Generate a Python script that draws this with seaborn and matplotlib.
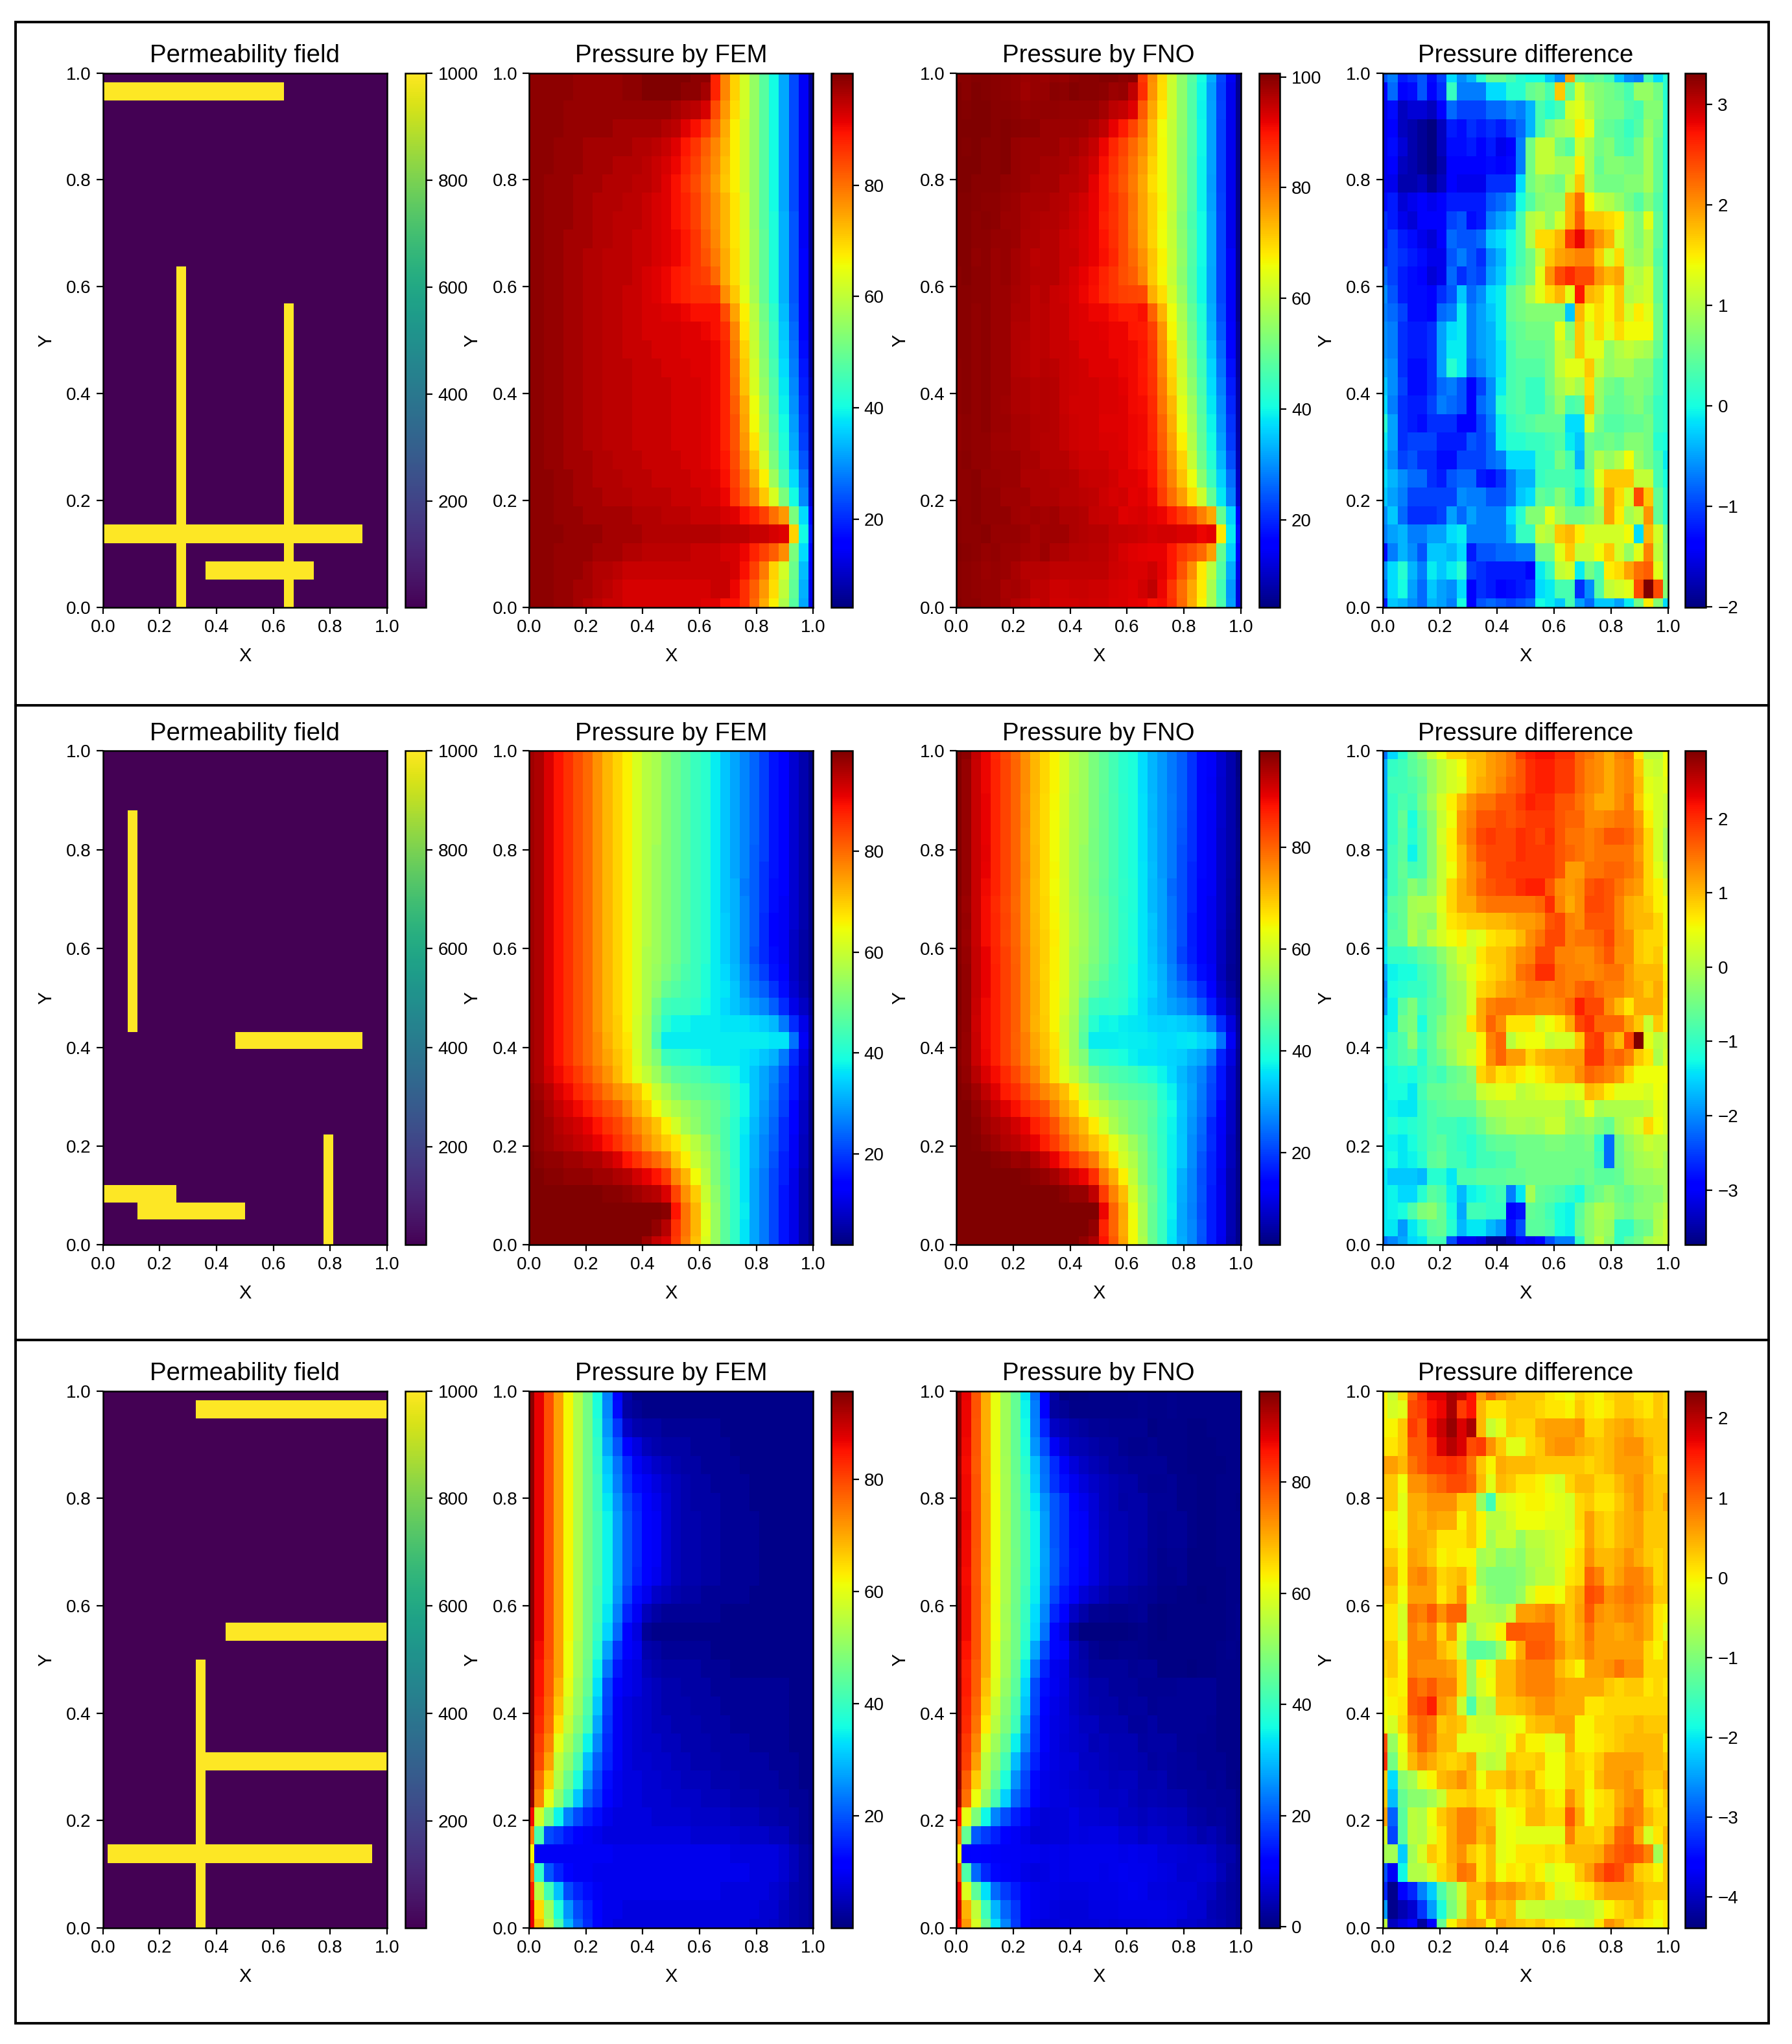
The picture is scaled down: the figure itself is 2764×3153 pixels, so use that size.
"""
plot.py
-------
Permeability field, FEM pressure, FNO pressure and their difference for three
samples. Fields are on a 30x30 grid, rows listed from y=1 (top) to y=0 (bottom).
"""
import numpy as np
import pandas as pd
import matplotlib.pyplot as plt
import seaborn as sns

NX = 30

# high permeability channels as grid cell ranges: (row_from, row_to, col_from, col_to)
PERM_BARS_1 = [(1, 1, 0, 18), (11, 29, 8, 8), (13, 29, 19, 19), (25, 25, 0, 26), (27, 27, 11, 21)]
PERM_BARS_2 = [(4, 16, 3, 3), (17, 17, 14, 26), (26, 26, 0, 7), (27, 27, 4, 14), (23, 29, 23, 23)]
PERM_BARS_3 = [(1, 1, 10, 29), (13, 13, 13, 29), (15, 29, 10, 10), (20, 20, 11, 29), (25, 25, 1, 27)]

FEM_1 = [
    [99,99,99,99,99,98,98,98,98,98,99,99,100,100,100,100,100,99,99,88,78,70,62,55,48,40,32,23,14,6],
    [99,99,99,99,99,98,98,98,98,98,99,99,100,100,100,100,99,99,97,88,78,70,62,55,48,40,32,23,14,6],
    [99,99,99,99,98,98,98,98,98,98,98,98,98,98,98,97,96,95,93,84,76,69,62,55,48,40,32,23,14,6],
    [99,99,99,99,98,98,98,98,98,97,97,97,97,97,96,95,92,90,86,81,74,67,61,55,48,40,32,23,14,6],
    [99,99,99,98,98,98,97,97,97,97,97,96,96,95,94,92,89,86,82,78,73,67,61,55,48,40,32,23,14,6],
    [99,99,99,98,98,98,97,97,97,96,96,96,95,94,93,91,88,85,81,77,72,67,61,55,48,40,32,23,14,6],
    [99,99,98,98,98,97,97,97,96,96,96,95,95,94,92,90,87,84,80,76,71,67,61,55,48,40,32,23,14,6],
    [99,99,98,98,98,97,97,96,96,96,95,95,94,93,92,90,88,85,81,77,73,68,62,55,48,40,32,23,14,6],
    [99,99,98,98,98,97,97,96,96,95,95,95,94,93,92,90,88,85,81,77,73,68,62,55,48,41,33,24,14,6],
    [99,99,98,98,97,97,97,96,96,95,95,94,94,93,92,91,89,86,82,78,73,68,63,56,49,41,33,24,14,6],
    [99,99,98,98,97,97,96,96,95,95,95,94,94,93,92,91,89,86,83,79,74,69,63,56,49,41,33,24,15,6],
    [99,99,98,98,97,97,96,96,95,95,95,94,93,92,91,89,88,86,85,81,74,69,63,56,49,41,33,24,15,6],
    [99,99,98,98,97,97,96,96,95,95,94,94,93,92,91,89,88,87,87,86,77,71,64,57,49,41,33,24,15,6],
    [99,99,98,98,97,97,96,96,95,95,94,94,93,93,92,92,91,90,90,90,84,75,67,59,51,43,34,25,15,6],
    [99,99,98,98,97,97,96,96,95,95,94,94,93,93,93,93,92,92,91,90,87,78,68,60,52,44,35,26,16,7],
    [99,99,98,98,97,97,96,96,95,95,94,94,94,93,93,93,92,92,92,91,88,79,70,61,53,45,36,27,17,7],
    [99,99,98,98,97,97,96,96,95,95,95,94,94,94,93,93,93,92,92,91,88,80,71,62,54,46,37,28,18,7],
    [99,99,98,98,97,97,96,96,95,95,95,94,94,94,94,93,93,93,92,91,88,81,72,63,55,47,38,29,19,8],
    [99,99,98,98,97,97,96,96,95,95,95,94,94,94,94,93,93,93,92,91,88,82,74,65,57,48,39,30,20,8],
    [99,99,98,98,97,97,96,96,95,95,95,94,94,94,94,93,93,93,92,91,88,83,75,66,58,49,40,31,21,8],
    [99,99,98,98,97,97,96,96,95,95,95,94,94,94,94,93,93,93,92,91,88,83,76,68,59,50,41,32,22,8],
    [99,99,98,98,97,97,97,96,96,95,95,95,94,94,94,94,93,93,92,91,89,84,78,71,62,52,43,34,24,9],
    [99,99,99,98,98,97,97,96,96,96,95,95,95,94,94,94,94,93,93,92,90,85,80,74,67,56,46,37,27,10],
    [99,99,99,98,98,97,97,97,96,96,96,95,95,95,95,94,94,94,93,93,91,86,82,78,71,63,52,40,29,11],
    [99,99,99,98,98,98,97,97,97,97,97,96,96,96,95,95,95,94,94,94,93,92,90,88,85,80,76,52,37,16],
    [99,99,99,99,98,98,98,98,97,97,97,97,96,96,96,96,96,96,96,96,95,95,95,94,94,93,92,70,40,18],
    [99,99,99,98,98,98,98,97,97,97,96,96,95,95,95,95,95,94,94,94,93,93,91,88,85,82,77,52,37,16],
    [99,99,99,98,98,98,97,96,96,95,94,94,94,94,94,94,94,94,94,94,94,93,90,85,79,70,62,50,34,14],
    [99,99,99,98,98,97,97,96,95,94,93,93,93,93,93,93,93,93,93,94,94,91,87,82,76,69,60,49,33,13],
    [99,99,99,98,98,97,96,95,94,94,93,93,93,93,93,93,93,93,92,92,90,90,87,81,74,67,58,48,32,12],
]

FEM_2 = [
    [97,96,92,89,86,83,80,76,72,69,66,62,58,56,52,49,46,43,41,37,33,30,27,24,20,16,13,9,6,3],
    [97,96,92,89,86,83,80,76,72,69,66,62,58,56,52,49,46,43,41,37,33,30,27,24,20,16,13,9,6,3],
    [97,96,92,89,86,83,80,76,72,69,66,62,58,56,52,49,46,43,41,37,33,30,27,24,20,16,13,9,6,3],
    [97,96,92,89,86,83,80,76,72,69,66,62,58,56,52,49,46,43,41,37,33,30,27,24,20,16,13,9,6,3],
    [97,96,92,89,86,83,80,76,72,69,66,62,58,56,52,49,46,43,41,37,33,30,27,24,20,16,13,9,6,3],
    [97,96,92,89,86,83,80,76,72,69,66,62,58,56,52,49,46,43,41,37,33,30,27,24,20,16,13,9,6,3],
    [97,96,92,89,86,83,80,76,72,69,66,62,58,55,52,49,46,43,41,37,33,30,27,23,20,16,13,9,6,3],
    [97,96,92,89,86,83,80,76,72,69,66,62,58,55,52,49,46,43,41,37,33,30,27,23,19,16,13,9,6,3],
    [97,96,92,89,86,83,80,76,72,69,66,62,58,55,52,49,46,43,41,37,33,31,26,23,19,15,13,9,6,3],
    [97,96,92,89,86,83,80,76,72,69,66,62,58,55,52,49,46,43,41,37,33,31,27,23,19,15,12,9,6,3],
    [97,96,92,89,86,83,80,76,72,69,66,62,58,55,52,49,46,43,41,37,34,31,27,23,18,14,12,9,6,3],
    [97,96,92,89,86,83,80,76,72,69,66,62,58,55,52,49,46,43,41,37,34,31,27,23,18,14,12,8,5,3],
    [97,96,92,89,86,83,80,76,72,69,66,62,57,55,52,49,46,43,41,37,34,31,27,22,18,15,12,8,5,3],
    [97,96,92,89,86,83,80,76,72,69,66,62,57,54,51,48,45,43,40,37,35,32,28,24,20,16,13,8,5,3],
    [97,96,92,89,86,83,80,76,72,69,66,62,57,53,48,46,44,43,40,37,36,33,29,26,23,19,15,9,6,3],
    [97,96,92,89,86,83,80,76,72,69,66,62,57,50,44,43,43,42,39,37,35,33,31,29,27,23,18,11,8,4],
    [97,96,92,89,86,83,80,76,72,70,66,61,56,48,41,38,38,37,37,37,36,36,36,35,34,32,26,18,11,5],
    [97,96,92,89,86,83,80,77,73,70,67,61,56,46,37,37,37,37,37,37,37,37,37,37,37,36,36,25,12,5],
    [97,96,92,89,86,83,80,77,74,71,68,62,56,52,43,42,41,40,38,37,37,37,36,35,33,31,26,18,10,4],
    [97,96,93,90,88,85,82,79,76,72,68,63,59,55,50,47,46,45,44,42,41,39,36,33,30,27,22,16,9,4],
    [98,97,95,92,90,87,85,82,79,76,74,71,66,60,56,52,49,48,47,46,45,41,38,33,30,26,21,16,9,4],
    [99,98,96,94,92,90,88,85,83,81,77,73,70,65,60,57,54,52,50,48,46,42,38,33,29,25,20,14,8,3],
    [99,98,97,95,94,93,91,89,86,84,81,77,74,71,66,61,56,53,50,48,45,41,37,32,28,24,18,13,8,3],
    [99,98,97,96,95,94,93,91,89,86,83,80,76,73,70,67,62,58,54,50,45,41,36,31,27,23,18,12,7,3],
    [100,99,98,98,97,97,96,96,94,92,89,86,83,80,77,71,66,60,56,51,46,41,36,31,27,22,17,12,7,3],
    [100,100,99,99,98,98,98,97,97,96,95,93,91,89,85,77,72,65,58,51,46,42,36,30,26,21,17,11,6,3],
    [100,100,100,100,100,100,100,100,99,99,98,97,96,95,92,84,76,70,60,53,47,42,36,30,26,21,16,11,6,3],
    [100,100,100,100,100,100,100,100,100,100,100,100,100,100,99,89,79,72,62,54,47,42,37,30,26,21,16,11,6,3],
    [100,100,100,100,100,100,100,100,100,100,100,100,100,98,95,86,79,72,63,54,47,42,36,30,26,21,16,11,6,3],
    [100,100,100,100,100,100,100,100,100,100,100,100,97,94,92,85,78,71,62,54,47,42,36,30,26,21,16,11,6,3],
]

FEM_3 = [
    [95,87,79,71,62,54,47,36,24,12,4,1,1,1,1,1,1,1,1,1,1,1,1,1,1,1,1,1,1,1],
    [95,87,79,71,62,54,47,37,25,13,3,2,1,1,1,1,1,1,1,1,1,1,1,1,1,1,1,1,1,1],
    [95,87,79,71,62,54,47,38,26,17,6,4,3,3,2,2,2,2,2,2,1,1,1,1,1,1,1,1,1,1],
    [95,87,79,71,62,54,47,39,28,20,11,8,5,4,3,3,3,2,2,2,2,1,1,1,1,1,1,1,1,1],
    [95,87,79,71,62,54,47,40,31,23,16,10,8,6,5,4,3,3,2,2,2,2,1,1,1,1,1,1,1,1],
    [95,87,79,71,62,54,47,41,32,24,17,13,10,8,6,5,4,3,3,2,2,2,2,1,1,1,1,1,1,1],
    [95,87,79,71,62,54,47,41,34,26,19,15,11,9,7,5,4,3,3,3,2,2,2,1,1,1,1,1,1,1],
    [95,87,79,71,62,54,47,42,35,27,20,16,12,10,7,5,4,4,3,3,2,2,2,2,1,1,1,1,1,1],
    [95,87,79,71,62,54,47,42,35,27,20,16,12,10,7,5,4,4,3,3,2,2,2,2,1,1,1,1,1,1],
    [95,87,79,71,62,54,47,42,35,27,20,16,12,10,7,5,4,4,3,3,2,2,2,2,1,1,1,1,1,1],
    [95,87,79,71,62,54,47,42,35,27,20,15,12,9,7,5,4,4,3,3,2,2,2,2,1,1,1,1,1,1],
    [95,87,79,71,62,54,47,41,35,26,18,13,9,6,5,4,3,3,2,2,2,2,2,1,1,1,1,1,1,1],
    [95,87,79,71,62,54,47,41,34,24,15,10,5,3,2,2,2,2,2,2,1,1,1,1,1,1,1,1,1,1],
    [95,87,79,71,62,54,47,40,32,22,12,8,2,1,1,1,1,1,1,1,1,1,1,1,1,1,1,1,1,1],
    [95,86,79,71,61,53,47,38,27,17,11,9,4,3,2,2,2,2,2,1,1,1,1,1,1,1,1,1,1,1],
    [95,85,78,71,61,53,46,35,23,14,9,8,5,4,3,3,3,3,2,2,2,1,1,1,1,1,1,1,1,1],
    [95,85,78,69,60,52,45,33,19,12,9,8,6,5,4,4,3,3,3,2,2,2,2,2,2,2,2,1,1,1],
    [95,84,77,67,58,51,43,31,18,10,8,7,6,5,4,4,4,3,3,3,2,2,2,2,2,2,2,1,1,1],
    [95,83,76,64,56,49,41,28,17,10,8,7,6,5,5,4,4,4,3,3,3,2,2,2,2,2,2,1,1,1],
    [95,81,74,60,53,46,35,25,16,10,8,7,6,6,5,5,4,4,4,3,3,3,3,2,2,2,2,1,1,1],
    [95,80,71,56,50,42,30,21,15,10,8,7,7,6,6,5,5,4,4,4,3,3,3,3,3,2,2,2,1,1],
    [95,76,66,54,46,37,26,19,13,9,8,8,7,7,6,6,5,5,5,4,4,4,3,3,3,3,2,2,1,1],
    [94,74,60,50,41,31,21,17,12,9,8,8,7,7,7,6,6,6,5,5,5,4,4,4,3,3,3,2,2,1],
    [86,58,47,35,24,19,15,13,9,8,8,8,8,7,7,7,7,6,6,6,6,5,5,5,4,4,3,3,2,1],
    [75,42,19,17,14,11,10,9,8,8,8,8,8,8,8,8,8,7,7,7,7,7,6,6,6,5,5,3,2,1],
    [62,10,10,10,10,10,10,10,10,9,9,9,9,9,9,9,9,9,9,9,9,8,8,8,8,8,7,5,3,2],
    [76,39,20,15,12,10,10,9,9,9,9,9,9,9,9,9,9,9,9,9,9,9,9,8,8,8,7,5,3,2],
    [84,55,41,30,19,15,13,10,9,9,9,9,9,9,9,9,9,9,9,9,8,8,8,8,8,7,6,4,3,2],
    [87,65,52,37,26,19,15,11,9,9,8,8,8,8,8,8,8,8,8,8,8,8,8,8,7,7,5,4,3,2],
    [87,68,55,42,29,21,16,12,9,8,8,8,8,8,8,8,8,8,8,8,8,8,8,7,7,6,5,4,3,2],
]

# in tenths
DIFF_1 = [
    [-9,-7,-12,-11,-9,-13,-10,-2,-6,-4,1,5,5,3,1,0,0,-3,-6,19,5,4,5,3,-3,-6,-7,3,-2,1],
    [-14,-8,-14,-13,-9,-14,-11,2,-7,-7,-7,-2,-2,1,1,5,6,3,17,5,12,8,7,6,5,3,8,8,6,1],
    [-15,-13,-17,-16,-16,-17,-14,-8,-10,-10,-10,-8,-8,-6,-7,-4,3,1,3,12,13,10,7,6,6,4,3,7,7,1],
    [-15,-14,-17,-18,-19,-20,-17,-12,-13,-11,-12,-11,-12,-10,-8,-4,3,7,9,10,15,13,6,5,4,2,4,8,6,1],
    [-15,-13,-16,-18,-19,-20,-17,-13,-13,-12,-14,-12,-15,-14,-7,6,11,11,6,4,12,9,6,7,4,3,6,9,5,1],
    [-15,-14,-17,-18,-19,-20,-18,-14,-14,-14,-14,-13,-14,-13,-7,6,11,11,9,9,15,9,5,7,7,6,6,9,5,1],
    [-15,-15,-18,-18,-17,-19,-17,-14,-15,-15,-15,-11,-11,-11,-2,6,8,7,6,11,17,9,6,6,6,7,7,9,5,1],
    [-13,-12,-16,-15,-14,-15,-14,-12,-12,-12,-12,-9,-8,-6,0,4,7,8,8,18,22,14,11,10,8,6,4,7,4,1],
    [-11,-12,-15,-16,-14,-14,-14,-10,-9,-13,-12,-7,-5,-3,3,10,11,8,12,18,23,17,17,16,15,9,7,13,5,1],
    [-12,-10,-12,-13,-15,-16,-14,-8,-9,-9,-8,-3,-2,0,3,10,16,16,18,25,28,23,20,18,12,9,7,10,5,1],
    [-11,-10,-11,-12,-13,-15,-15,-9,-7,-9,-11,-6,-4,0,3,6,11,17,19,20,21,21,17,12,16,9,8,10,4,1],
    [-8,-10,-12,-13,-14,-16,-15,-8,-11,-9,-10,-5,-3,1,4,6,13,20,24,26,24,24,20,18,19,11,10,12,5,1],
    [-6,-9,-12,-13,-13,-14,-11,-9,-3,-8,-6,-2,-1,5,6,10,13,16,18,13,27,18,17,14,17,10,11,12,5,1],
    [-7,-8,-10,-13,-13,-14,-8,-7,-1,-7,-5,-3,-1,5,6,7,7,7,7,-3,18,14,16,14,17,12,15,13,6,1],
    [-6,-7,-11,-12,-12,-11,-5,-2,-1,-7,-5,-4,-1,4,5,6,6,6,13,7,17,12,16,13,16,14,14,14,6,1],
    [-6,-7,-11,-12,-12,-11,-5,-1,-1,-7,-5,-4,-2,3,5,5,5,6,11,9,17,13,13,8,10,11,10,9,5,1],
    [-5,-6,-11,-13,-13,-11,-5,1,-1,-8,-6,-4,-2,3,4,4,4,6,11,13,13,17,11,8,9,9,7,7,3,1],
    [-3,-6,-10,-13,-13,-11,-8,-7,-9,-14,-10,-6,-1,3,4,2,2,6,9,11,9,16,8,6,5,7,7,6,3,1],
    [-2,-7,-11,-12,-12,-10,-7,-8,-9,-14,-8,-6,1,3,4,2,2,5,8,3,4,17,8,5,5,6,7,5,2,1],
    [1,-5,-11,-12,-13,-11,-11,-11,-14,-14,-10,-7,-1,2,3,4,5,5,5,-2,-2,12,6,4,4,5,5,6,2,1],
    [-1,-5,-11,-10,-10,-10,-12,-12,-12,-9,-10,-8,-1,1,1,2,2,3,4,-1,-3,6,5,6,5,7,7,6,1,0],
    [-3,-6,-10,-9,-11,-11,-13,-13,-10,-10,-10,-8,-7,-2,-2,-2,2,2,6,3,-4,6,10,8,10,14,8,6,3,-1],
    [-2,-4,-6,-8,-8,-11,-12,-9,-8,-8,-12,-13,-11,-7,-4,-4,2,3,3,3,1,5,13,17,17,17,11,11,3,0],
    [-3,-5,-7,-10,-10,-10,-10,-10,-6,-7,-7,-9,-9,-7,-3,-2,5,4,7,4,-1,3,11,19,16,12,24,17,5,1],
    [-6,-3,-8,-11,-11,-11,-10,-5,-8,-5,-7,-7,-7,-2,1,7,7,13,9,6,6,7,9,19,15,9,11,20,5,1],
    [-7,-5,-4,-7,-7,-5,-5,-2,-1,-7,-7,-7,-7,-4,2,2,11,10,17,18,15,12,12,12,12,14,-2,18,12,5],
    [-13,-7,-4,-6,-9,-3,-3,-4,-2,-12,-9,-9,-8,-8,-7,-7,6,6,13,17,11,11,14,17,12,8,13,21,11,6],
    [-6,-2,1,-4,-7,-1,-3,-1,1,-10,-11,-12,-12,-12,-12,-14,-1,2,11,12,-1,6,3,15,16,19,22,23,13,6],
    [-8,-2,0,-5,-8,-3,-5,-6,-2,-14,-11,-12,-14,-13,-12,-11,-2,-1,3,3,-11,-6,4,11,12,13,24,33,24,7],
    [-12,-3,-4,-6,-8,-4,-5,-7,0,-14,-9,-8,-9,-10,-9,-8,0,-1,-3,3,-5,-8,-3,-3,-5,-1,6,15,7,-2],
]

DIFF_2 = [
    [-22,-15,-11,-6,-3,2,5,8,8,10,10,12,13,15,19,21,22,22,20,20,16,15,13,11,14,15,7,1,1,5],
    [-18,-10,-9,-7,-5,-2,1,3,5,9,10,12,13,15,17,20,21,21,19,19,16,14,13,11,13,14,9,3,2,5],
    [-18,-9,-9,-8,-6,-2,1,3,4,9,11,12,14,16,17,20,21,21,19,19,16,14,13,11,13,14,10,4,3,4],
    [-18,-10,-8,-9,-5,-1,3,6,10,13,15,15,17,17,19,21,20,20,17,17,15,13,11,11,13,15,9,5,3,2],
    [-18,-10,-6,-12,-7,-3,2,5,12,14,17,17,18,17,18,19,19,19,17,16,16,13,13,14,15,15,12,6,3,1],
    [-18,-10,-7,-11,-8,-3,3,6,12,15,18,19,18,18,20,19,18,20,17,15,15,14,15,17,17,16,13,8,3,-1],
    [-18,-9,-7,-13,-8,-3,2,6,10,14,17,18,18,18,20,19,19,19,17,16,15,14,15,15,15,15,12,8,3,-1],
    [-18,-9,-6,-9,-8,-3,2,5,10,13,15,18,18,19,19,19,19,19,17,12,12,15,15,16,16,15,13,8,4,1],
    [-17,-9,-7,-3,-5,-2,2,8,11,13,16,17,18,18,20,21,21,17,13,12,13,17,18,17,15,13,12,8,6,3],
    [-16,-7,-6,-1,0,0,4,8,11,11,14,15,15,15,15,15,16,20,14,11,13,18,18,17,14,11,10,9,6,5],
    [-15,-8,-6,-1,-2,-3,3,7,8,9,9,10,10,11,12,12,13,17,18,14,13,17,17,17,14,11,10,10,8,5],
    [-15,-7,-7,0,-3,1,3,5,6,3,4,7,8,8,10,13,15,18,18,14,15,15,16,18,14,13,9,8,8,6],
    [-14,-10,-10,-9,-7,-6,-3,0,3,2,7,9,9,11,13,14,18,18,14,14,13,13,15,17,13,13,9,8,9,5],
    [-18,-13,-12,-12,-9,-8,-5,-1,1,4,6,8,9,11,15,16,20,20,15,14,14,13,14,15,15,12,10,10,10,6],
    [-20,-12,-11,-10,-10,-8,-5,-2,-1,3,8,9,11,12,13,15,15,14,15,14,16,17,15,14,14,12,11,9,11,7],
    [-19,-13,-7,-4,-9,-7,-6,-2,-1,3,11,14,15,15,14,14,13,13,14,16,21,18,18,13,10,7,11,11,11,6],
    [-14,-13,-5,-4,-12,-7,-4,-1,0,7,11,16,13,7,7,7,3,5,7,11,18,20,16,16,16,12,9,2,9,6],
    [-14,-10,-8,-3,-9,-7,-3,-1,1,1,6,14,16,1,4,5,5,2,3,3,9,18,19,13,10,18,29,4,1,2],
    [-12,-10,-8,-7,-11,-7,-5,-2,1,3,6,13,16,12,12,8,10,11,11,12,12,19,19,15,16,14,9,7,0,3],
    [-13,-12,-11,-12,-10,-8,-9,-6,-5,-3,8,10,7,8,6,5,6,8,10,10,13,16,15,14,12,8,5,5,5,5],
    [-14,-12,-12,-14,-9,-6,-6,-5,-4,-4,2,3,4,4,1,2,3,4,4,3,4,10,9,6,4,4,4,3,5,4],
    [-13,-13,-14,-14,-10,-8,-7,-6,-6,-6,-3,0,0,1,1,1,1,1,1,-2,0,4,-1,0,0,0,0,1,4,3],
    [-13,-11,-12,-11,-10,-8,-9,-9,-10,-9,-6,-3,-2,0,0,-1,0,2,2,-2,-3,-2,-4,-6,-1,1,3,8,5,3],
    [-13,-13,-14,-12,-10,-8,-7,-9,-10,-11,-9,-7,-6,-6,-5,-5,-5,-4,-4,-5,-5,-4,-10,-22,-5,-2,0,2,1,1],
    [-13,-12,-14,-13,-11,-7,-6,-9,-9,-11,-9,-9,-8,-8,-5,-5,-5,-5,-5,-5,-5,-5,-9,-22,-5,-3,-1,0,1,-1],
    [-14,-16,-16,-16,-17,-11,-11,-14,-8,-8,-7,-7,-7,-6,-6,-5,-5,-5,-5,-5,-6,-5,-7,-7,-6,-3,-2,-2,-1,-1],
    [-14,-13,-15,-15,-11,-7,-8,-13,-17,-13,-12,-10,-9,-21,-14,-1,-6,-7,-8,-10,-12,-7,-5,-3,-5,-6,-4,-3,-3,-1],
    [-14,-13,-12,-8,-4,-3,-6,-12,-18,-9,-9,-10,-10,-30,-28,-6,-7,-9,-12,-13,-7,-3,0,-1,-4,-5,-3,-3,-1,1],
    [-14,-14,-19,-14,-11,-7,-6,-11,-17,-14,-14,-17,-19,-28,-24,-7,-7,-8,-12,-13,-6,-3,-1,-2,-10,-10,-6,-5,0,2],
    [-22,-20,-18,-15,-14,-9,-9,-24,-31,-31,-32,-36,-36,-34,-29,-31,-29,-24,-21,-21,-10,-3,1,-3,-10,-7,-5,-1,1,2],
]

DIFF_3 = [
    [0,-4,2,10,14,18,18,21,19,16,6,10,7,5,3,3,3,1,0,-1,2,1,0,2,3,3,1,1,3,2],
    [0,-3,-2,12,13,16,17,21,13,16,4,1,1,3,3,3,2,1,1,0,3,1,0,1,3,3,2,1,3,2],
    [0,0,3,13,11,17,19,22,18,21,4,-4,-2,3,2,2,5,6,6,6,7,2,2,4,5,6,4,3,3,3],
    [1,1,3,11,11,14,18,20,18,12,13,7,3,-2,-2,2,3,6,7,7,5,4,3,4,6,7,7,4,3,3],
    [6,6,4,9,11,13,13,14,13,9,3,0,5,4,4,4,3,3,3,3,3,2,3,4,6,6,6,5,2,2],
    [3,3,-1,7,7,9,10,12,12,10,4,-2,4,3,1,1,0,-2,-3,2,4,4,2,2,4,6,7,4,3,3],
    [3,3,-2,5,5,7,7,7,3,3,-8,-15,-3,-2,-1,0,0,-1,-2,-3,2,3,1,1,3,5,7,4,3,5],
    [0,0,-2,5,4,6,5,5,0,3,0,-5,-5,-3,-1,-1,-1,-2,-2,-3,2,6,3,2,4,5,6,3,3,3],
    [1,1,-1,5,5,4,1,1,1,3,0,-7,-4,-4,-8,-5,-5,-4,-3,-2,1,6,3,2,4,5,6,3,3,3],
    [3,3,0,6,5,3,0,1,0,0,-7,-6,-9,-8,-9,-6,-6,-4,-3,0,2,7,4,4,5,7,5,3,2,3],
    [5,5,0,7,8,6,2,3,4,1,-8,-10,-10,-10,-9,-7,-5,-5,-3,1,2,10,8,4,6,8,8,6,2,3],
    [3,3,-1,6,6,6,1,3,7,-1,-6,-9,-10,-10,-8,-3,0,0,-1,3,5,12,11,7,8,9,8,7,3,3],
    [1,1,-3,9,8,11,7,10,10,-5,-5,-6,-7,-4,6,6,7,8,5,3,6,11,7,6,7,8,7,5,1,0],
    [1,1,-3,8,6,8,2,7,-2,-8,-4,-3,0,11,11,10,10,10,5,3,5,9,6,6,5,6,7,5,1,-2],
    [3,3,-1,8,8,8,4,2,-4,-13,-13,-12,-8,0,5,11,11,10,7,4,5,8,6,6,6,6,6,2,0,2],
    [2,3,0,8,7,7,7,6,2,-8,0,-2,4,4,7,8,8,8,4,2,0,6,6,7,9,7,7,2,2,2],
    [0,1,0,11,9,11,8,8,2,-8,-3,-1,4,4,7,8,8,8,6,5,5,5,5,3,2,3,3,1,2,1],
    [-1,0,1,11,12,15,7,5,-4,-14,-5,-6,3,3,4,5,7,7,5,5,5,1,1,2,2,2,2,2,2,2],
    [-1,-3,2,8,10,9,3,4,3,-3,-4,-4,-3,-2,-1,3,4,4,6,6,0,0,2,2,3,3,4,3,3,3],
    [12,-8,-1,6,10,8,4,4,-2,-2,-2,-3,-4,-1,3,0,0,-2,-2,5,0,0,1,2,3,4,4,4,4,1],
    [14,-11,-2,4,7,5,3,2,3,5,-4,-5,-4,3,2,2,3,-1,-1,3,2,1,3,6,6,6,6,4,4,3],
    [3,-21,-9,-7,-2,0,4,5,7,4,-1,3,3,5,3,5,1,-1,-1,3,3,0,4,6,6,7,5,3,3,5],
    [3,-23,-12,-9,-9,-7,-4,2,2,3,1,1,-1,2,1,3,4,1,0,7,3,-1,1,2,5,7,8,2,1,3],
    [6,-29,-13,-5,-6,-1,3,5,8,8,5,4,-2,-1,0,4,4,2,2,11,5,-1,2,2,6,9,8,4,2,2],
    [-3,-31,-13,-5,-6,-2,1,5,8,8,4,6,-2,-1,-2,-2,-2,-2,-2,8,3,3,2,5,10,11,5,-3,1,4],
    [-7,-7,-22,-7,-3,3,1,5,7,3,1,4,-2,-1,1,1,1,2,1,4,4,4,5,9,11,12,11,8,-7,3],
    [-30,-37,-19,-6,-6,-3,2,4,9,8,1,4,-1,1,0,2,0,-3,-1,-1,3,6,10,13,12,8,3,2,0,3],
    [-33,-43,-36,-33,-27,-22,-14,-9,-4,4,4,8,6,7,5,3,4,1,-3,-2,0,1,4,6,6,6,5,3,3,3],
    [-25,-43,-41,-39,-32,-25,-18,-10,-5,5,0,6,3,4,-3,-4,-4,-5,-5,-6,-6,-5,-3,0,2,3,5,2,0,1],
    [-5,-40,-38,-36,-42,-36,-12,0,4,6,5,0,6,4,3,2,3,1,0,-1,-3,-4,1,7,5,2,1,0,-1,1],
]

TITLES = ["Permeability field", "Pressure by FEM", "Pressure by FNO", "Pressure difference"]
AXIS_TICKS = [0.0, 0.2, 0.4, 0.6, 0.8, 1.0]

# colour limits and colourbar ticks, one row of panels per sample
PERM_LIMITS = (1, 1000)
PERM_TICKS = [200, 400, 600, 800, 1000]
FEM_LIMITS = [(4.1, 100.2), (1.9, 99.9), (0.0, 95.8)]
FNO_LIMITS = [(4.2, 100.7), (1.8, 99.0), (-0.2, 96.4)]
DIFF_LIMITS = [(-2.01, 3.31), (-3.74, 2.91), (-4.39, 2.34)]
FEM_TICKS = [[20, 40, 60, 80], [20, 40, 60, 80], [20, 40, 60, 80]]
FNO_TICKS = [[20, 40, 60, 80, 100], [20, 40, 60, 80], [0, 20, 40, 60, 80]]
DIFF_TICKS = [[-2, -1, 0, 1, 2, 3], [-3, -2, -1, 0, 1, 2], [-4, -3, -2, -1, 0, 1, 2]]

# layout, in pixels of a 1375x1568 canvas
W, H = 1375, 1568
ROW_TOP = [56, 576, 1067]
ROW_BOTTOM = [466, 955, 1479]
COL_LEFT = [79, 406, 734, 1061]
COL_RIGHT = [297, 624, 952, 1280]
CBAR_LEFT = [311, 638, 966, 1293]
CBAR_RIGHT = [327, 654, 982, 1309]
FRAME_X = (12, 1357)
FRAME_Y = (17, 1552)
SEPARATORS = [541, 1028]

sns.set_theme(style="ticks", rc={
    "text.color": "black", "axes.labelcolor": "black", "xtick.color": "black", "ytick.color": "black",
    "axes.edgecolor": "black", "xtick.major.size": 3.5, "ytick.major.size": 3.5,
})
# narrower than DejaVu, the reference text is squeezed sideways
plt.rcParams["font.family"] = ["Liberation Sans", "DejaVu Sans"]


def perm_field(bars):
    field = np.full((NX, NX), PERM_LIMITS[0], dtype=float)
    for r0, r1, c0, c1 in bars:
        field[r0:r1 + 1, c0:c1 + 1] = PERM_LIMITS[1]
    return field


def box(x0, x1, y_top, y_bottom):
    return [x0 / W, 1 - y_bottom / H, (x1 - x0) / W, (y_bottom - y_top) / H]


def draw_panel(fig, field, row, col, cmap, limits, cbar_ticks):
    ax = fig.add_axes(box(COL_LEFT[col], COL_RIGHT[col], ROW_TOP[row], ROW_BOTTOM[row]))
    cax = fig.add_axes(box(CBAR_LEFT[col], CBAR_RIGHT[col], ROW_TOP[row], ROW_BOTTOM[row]))
    sns.heatmap(pd.DataFrame(field), ax=ax, cbar_ax=cax, cmap=cmap, vmin=limits[0], vmax=limits[1],
                xticklabels=False, yticklabels=False, linewidths=0)

    # edge nodes sit on the axes limits, so the outer cells only show by half
    ax.set_xlim(0.5, NX - 0.5)
    ax.set_ylim(NX - 0.5, 0.5)
    labels = [f"{t:.1f}" for t in AXIS_TICKS]
    ax.set_xticks([0.5 + t * (NX - 1) for t in AXIS_TICKS], labels, rotation=0, fontsize=10)
    ax.set_yticks([0.5 + (1 - t) * (NX - 1) for t in AXIS_TICKS], labels, rotation=0, fontsize=10)
    ax.tick_params(length=3.5, width=0.8, pad=3)
    ax.set_xlabel("X", fontsize=10.5, labelpad=6)
    ax.set_ylabel("Y", fontsize=10.5, labelpad=6)
    ax.set_title(TITLES[col], fontsize=13.8, pad=6)
    for spine in ax.spines.values():
        spine.set_visible(True)
        spine.set_linewidth(0.9)
        spine.set_color("black")

    cbar = ax.collections[0].colorbar
    cbar.set_ticks(cbar_ticks)
    cbar.ax.tick_params(length=3.5, width=0.8, labelsize=10, pad=3)
    cbar.outline.set_visible(True)
    cbar.outline.set_linewidth(0.9)
    cbar.outline.set_edgecolor("black")


def main():
    fig = plt.figure(figsize=(13.82, 15.765), dpi=200, facecolor="white")

    perms = [PERM_BARS_1, PERM_BARS_2, PERM_BARS_3]
    fems = [FEM_1, FEM_2, FEM_3]
    diffs = [DIFF_1, DIFF_2, DIFF_3]
    for row in range(3):
        fem = np.array(fems[row], dtype=float)
        diff = np.array(diffs[row], dtype=float) / 10
        # the last panel is FEM minus FNO, so the FNO field follows from the two read ones
        fno = fem - diff
        draw_panel(fig, perm_field(perms[row]), row, 0, "viridis", PERM_LIMITS, PERM_TICKS)
        draw_panel(fig, fem, row, 1, "jet", FEM_LIMITS[row], FEM_TICKS[row])
        draw_panel(fig, fno, row, 2, "jet", FNO_LIMITS[row], FNO_TICKS[row])
        draw_panel(fig, diff, row, 3, "jet", DIFF_LIMITS[row], DIFF_TICKS[row])

    # outer frame and separators between the samples
    x0, x1 = FRAME_X[0] / W, FRAME_X[1] / W
    y0, y1 = 1 - FRAME_Y[1] / H, 1 - FRAME_Y[0] / H
    fig.add_artist(plt.Rectangle((x0, y0), x1 - x0, y1 - y0, transform=fig.transFigure,
                                 fill=False, edgecolor="black", linewidth=1.4))
    for y in SEPARATORS:
        fig.add_artist(plt.Line2D([x0, x1], [1 - y / H, 1 - y / H], transform=fig.transFigure,
                                  color="black", linewidth=1.4))

    fig.savefig("out.png", dpi=200)
    plt.close(fig)


if __name__ == "__main__":
    main()
